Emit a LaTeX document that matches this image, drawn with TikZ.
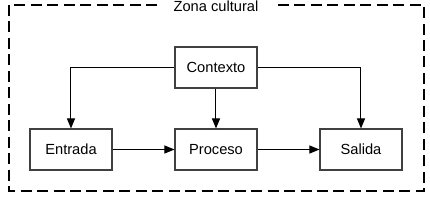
\documentclass[tikz,border=0pt]{standalone}
\usepackage{fontspec}
\setmainfont{Liberation Sans}
\usetikzlibrary{arrows.meta}

\begin{document}
\begin{tikzpicture}[x=0.75pt,y=-0.75pt,
    font=\fontsize{11}{13}\selectfont,
    caja/.style={draw=black!75,line width=0.8pt,minimum width=61.5pt,minimum height=30.75pt,inner sep=0pt},
    flecha/.style={-{Triangle[length=7.5pt,width=6pt]},line width=0.75pt}]
    \useasboundingbox (0,0) rectangle (430,201);
    \draw[dash pattern=on 8.25pt off 4.1pt,line width=1pt] (9,5) rectangle (424,191);
    \node[fill=white,inner xsep=10.5pt,inner ysep=1pt,anchor=base] (zona) at (216,11){Zona cultural};

    \node[caja] (ctx) at (216,67.5){Contexto};
    \node[caja] (ent) at (71,149.5){Entrada};
    \node[caja] (pro) at (216,149.5){Proceso};
    \node[caja] (sal) at (361,149.5){Salida};

    \draw[flecha] (ctx.west) -| (ent.north);
    \draw[flecha] (ctx.east) -| (sal.north);
    \draw (ctx) edge[flecha] (pro);
    \draw (ent) edge[flecha] (pro);
    \draw (pro) edge[flecha] (sal);
  \end{tikzpicture}
\end{document}
